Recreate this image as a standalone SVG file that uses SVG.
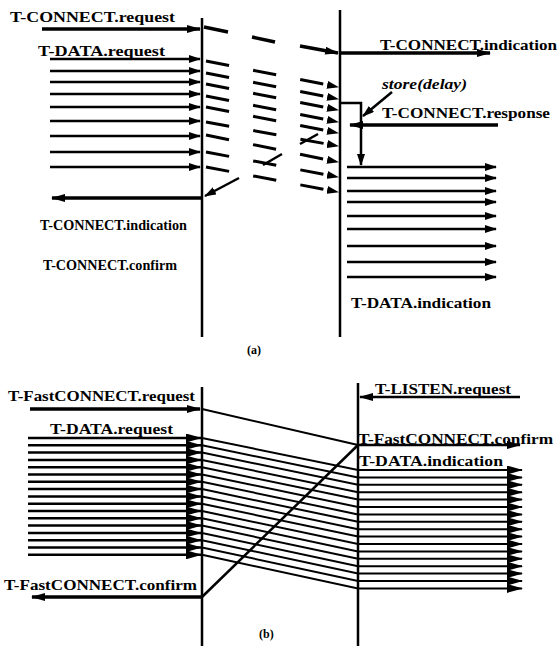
<svg xmlns="http://www.w3.org/2000/svg" width="558" height="646" viewBox="0 0 558 646">
  <style>
    .lbl { font-family: "Liberation Serif", "Times New Roman", serif; font-weight: bold; font-size: 15px; fill: #000; }
    .it { font-style: italic; }
    .cap { font-family: "Liberation Serif", "Times New Roman", serif; font-weight: bold; font-size: 12px; fill: #000; }
    .life { stroke: #000; stroke-width: 2.5; fill: none; }
    .msg { stroke: #000; stroke-width: 2.5; fill: none; }
    .thick { stroke: #000; stroke-width: 3.5; fill: none; }
    .thin { stroke: #000; stroke-width: 2; fill: none; }
    .dash { stroke: #000; stroke-width: 3; fill: none; stroke-dasharray: 23.5 24.5; }
  </style>
  <defs>
    <marker id="ah" markerUnits="userSpaceOnUse" viewBox="0 0 14 8" markerWidth="14" markerHeight="8" refX="13" refY="4" orient="auto">
      <path d="M0,0 L14,4 L0,8 z" fill="#000"/>
    </marker>
    <marker id="ahs" markerUnits="userSpaceOnUse" viewBox="0 0 12 8" markerWidth="12" markerHeight="8" refX="11" refY="4" orient="auto">
      <path d="M0,0 L12,4 L0,8 z" fill="#000"/>
    </marker>
    <marker id="ahb" markerUnits="userSpaceOnUse" viewBox="0 0 16 9" markerWidth="16" markerHeight="9" refX="15" refY="4.5" orient="auto">
      <path d="M0,0 L16,4.5 L0,9 z" fill="#000"/>
    </marker>
  </defs>

  <!-- (a) connection setup with buffered data -->
  <g id="a-lifelines">
    <line class="life" x1="202" y1="18" x2="202" y2="337"/>
    <line class="life" x1="340" y1="10" x2="340" y2="337"/>
  </g>

  <g id="a-connectors">
    <!-- connect request and its slow transfer -->
    <line class="thick" x1="42" y1="29" x2="200" y2="29" marker-end="url(#ah)"/>
    <line class="thick" x1="204" y1="27" x2="228" y2="32"/>
    <line class="thick" x1="252" y1="37" x2="275" y2="42"/>
    <line class="thick" x1="300" y1="46" x2="338" y2="53" marker-end="url(#ah)"/>
    <line class="thick" x1="340" y1="53" x2="490" y2="53" marker-end="url(#ah)"/>

    <!-- data requests on the initiating side -->
    <g class="msg">
      <line x1="50" y1="59" x2="200" y2="59" marker-end="url(#ahs)"/>
      <line x1="50" y1="71" x2="200" y2="71" marker-end="url(#ahs)"/>
      <line x1="50" y1="82" x2="200" y2="82" marker-end="url(#ahs)"/>
      <line x1="50" y1="94" x2="200" y2="94" marker-end="url(#ahs)"/>
      <line x1="50" y1="107" x2="200" y2="107" marker-end="url(#ahs)"/>
      <line x1="50" y1="121" x2="200" y2="121" marker-end="url(#ahs)"/>
      <line x1="50" y1="136" x2="200" y2="136" marker-end="url(#ahs)"/>
      <line x1="50" y1="152" x2="200" y2="152" marker-end="url(#ahs)"/>
      <line x1="50" y1="167" x2="200" y2="167" marker-end="url(#ahs)"/>
    </g>

    <!-- data in transit -->
    <g class="dash">
      <line x1="206" y1="61" x2="338" y2="87" marker-end="url(#ahs)"/>
      <line x1="206" y1="73" x2="338" y2="99" marker-end="url(#ahs)"/>
      <line x1="206" y1="84" x2="338" y2="110" marker-end="url(#ahs)"/>
      <line x1="206" y1="96" x2="338" y2="122" marker-end="url(#ahs)"/>
      <line x1="206" y1="107" x2="338" y2="133" marker-end="url(#ahs)"/>
      <line x1="206" y1="122" x2="338" y2="146" marker-end="url(#ahs)"/>
      <line x1="206" y1="135" x2="338" y2="162" marker-end="url(#ahs)"/>
      <line x1="206" y1="152" x2="338" y2="177" marker-end="url(#ahs)"/>
      <line x1="206" y1="167" x2="338" y2="192" marker-end="url(#ahs)"/>
    </g>

    <!-- connect confirmation travelling back -->
    <path class="msg" d="M318,134 L300,144 M282,154 L263,165"/>
    <line class="msg" x1="239" y1="178" x2="205" y2="196" marker-end="url(#ahs)"/>
    <line class="thick" x1="202" y1="198" x2="52" y2="198" marker-end="url(#ah)"/>

    <!-- store and delay at the responding side -->
    <path class="msg" d="M340,103 L361,103 L361,165" marker-end="url(#ahs)"/>
    <line class="msg" x1="392" y1="92" x2="363" y2="116" marker-end="url(#ahs)"/>
    <line class="thick" x1="498" y1="125" x2="350" y2="125" marker-end="url(#ah)"/>

    <!-- data indications delivered after the response -->
    <g class="msg">
      <line x1="347" y1="167" x2="496" y2="167" marker-end="url(#ahs)"/>
      <line x1="347" y1="178" x2="496" y2="178" marker-end="url(#ahs)"/>
      <line x1="347" y1="191" x2="496" y2="191" marker-end="url(#ahs)"/>
      <line x1="347" y1="202" x2="496" y2="202" marker-end="url(#ahs)"/>
      <line x1="347" y1="216" x2="496" y2="216" marker-end="url(#ahs)"/>
      <line x1="347" y1="229" x2="496" y2="229" marker-end="url(#ahs)"/>
      <line x1="347" y1="246" x2="496" y2="246" marker-end="url(#ahs)"/>
      <line x1="347" y1="262" x2="496" y2="262" marker-end="url(#ahs)"/>
      <line x1="347" y1="277" x2="496" y2="277" marker-end="url(#ahs)"/>
    </g>
  </g>

  <g id="a-labels">
    <text class="lbl" x="10" y="22" textLength="165" lengthAdjust="spacingAndGlyphs">T-CONNECT.request</text>
    <text class="lbl" x="38" y="56" textLength="127" lengthAdjust="spacingAndGlyphs">T-DATA.request</text>
    <text class="lbl" x="380" y="50" textLength="177" lengthAdjust="spacingAndGlyphs">T-CONNECT.indication</text>
    <text class="lbl it" x="382" y="89" textLength="85" lengthAdjust="spacingAndGlyphs">store(delay)</text>
    <text class="lbl" x="382" y="118" textLength="168" lengthAdjust="spacingAndGlyphs">T-CONNECT.response</text>
    <text class="lbl" x="40" y="230" textLength="147" lengthAdjust="spacingAndGlyphs">T-CONNECT.indication</text>
    <text class="lbl" x="43" y="270" textLength="134" lengthAdjust="spacingAndGlyphs">T-CONNECT.confirm</text>
    <text class="lbl" x="351" y="308" textLength="140" lengthAdjust="spacingAndGlyphs">T-DATA.indication</text>
    <text class="cap" x="247" y="354">(a)</text>
  </g>

  <!-- (b) fast connect: data sent with the connect request -->
  <g id="b-lifelines">
    <line class="life" x1="202" y1="387" x2="202" y2="646"/>
    <line class="life" x1="358" y1="383" x2="358" y2="646"/>
  </g>

  <g id="b-connectors">
    <line class="thick" x1="30" y1="409" x2="200" y2="409" marker-end="url(#ah)"/>
    <line class="thin" x1="202" y1="409" x2="358" y2="445"/>
    <line class="msg" x1="358" y1="445" x2="520" y2="445" marker-end="url(#ah)"/>
    <line class="msg" x1="520" y1="397" x2="360" y2="397" marker-end="url(#ah)"/>

    <!-- data requests -->
    <g class="msg">
      <line x1="28" y1="438" x2="201" y2="438" marker-end="url(#ahb)"/>
      <line x1="28" y1="445.3" x2="201" y2="445.3" marker-end="url(#ahb)"/>
      <line x1="28" y1="452.6" x2="201" y2="452.6" marker-end="url(#ahb)"/>
      <line x1="28" y1="459.9" x2="201" y2="459.9" marker-end="url(#ahb)"/>
      <line x1="28" y1="467.2" x2="201" y2="467.2" marker-end="url(#ahb)"/>
      <line x1="28" y1="474.5" x2="201" y2="474.5" marker-end="url(#ahb)"/>
      <line x1="28" y1="481.8" x2="201" y2="481.8" marker-end="url(#ahb)"/>
      <line x1="28" y1="489.1" x2="201" y2="489.1" marker-end="url(#ahb)"/>
      <line x1="28" y1="496.4" x2="201" y2="496.4" marker-end="url(#ahb)"/>
      <line x1="28" y1="503.7" x2="201" y2="503.7" marker-end="url(#ahb)"/>
      <line x1="28" y1="511" x2="201" y2="511" marker-end="url(#ahb)"/>
      <line x1="28" y1="518.3" x2="201" y2="518.3" marker-end="url(#ahb)"/>
      <line x1="28" y1="525.6" x2="201" y2="525.6" marker-end="url(#ahb)"/>
      <line x1="28" y1="532.9" x2="201" y2="532.9" marker-end="url(#ahb)"/>
      <line x1="28" y1="540.2" x2="201" y2="540.2" marker-end="url(#ahb)"/>
      <line x1="28" y1="547.5" x2="201" y2="547.5" marker-end="url(#ahb)"/>
      <line x1="28" y1="554.8" x2="201" y2="554.8" marker-end="url(#ahb)"/>
    </g>

    <!-- data in transit and delivered as indications -->
    <g class="thin">
      <polyline points="202,438 358,470 522,470" marker-end="url(#ahb)"/>
      <polyline points="202,445.3 358,477.4 522,477.4" marker-end="url(#ahb)"/>
      <polyline points="202,452.6 358,484.8 522,484.8" marker-end="url(#ahb)"/>
      <polyline points="202,459.9 358,492.2 522,492.2" marker-end="url(#ahb)"/>
      <polyline points="202,467.2 358,499.6 522,499.6" marker-end="url(#ahb)"/>
      <polyline points="202,474.5 358,507 522,507" marker-end="url(#ahb)"/>
      <polyline points="202,481.8 358,514.4 522,514.4" marker-end="url(#ahb)"/>
      <polyline points="202,489.1 358,521.8 522,521.8" marker-end="url(#ahb)"/>
      <polyline points="202,496.4 358,529.2 522,529.2" marker-end="url(#ahb)"/>
      <polyline points="202,503.7 358,536.6 522,536.6" marker-end="url(#ahb)"/>
      <polyline points="202,511 358,544 522,544" marker-end="url(#ahb)"/>
      <polyline points="202,518.3 358,551.4 522,551.4" marker-end="url(#ahb)"/>
      <polyline points="202,525.6 358,558.8 522,558.8" marker-end="url(#ahb)"/>
      <polyline points="202,532.9 358,566.2 522,566.2" marker-end="url(#ahb)"/>
      <polyline points="202,540.2 358,573.6 522,573.6" marker-end="url(#ahb)"/>
      <polyline points="202,547.5 358,581 522,581" marker-end="url(#ahb)"/>
      <polyline points="202,554.8 358,588.4 522,588.4" marker-end="url(#ahb)"/>
    </g>

    <!-- fast connect confirmation -->
    <line class="msg" x1="358" y1="445" x2="202" y2="597"/>
    <line class="thick" x1="202" y1="597" x2="32" y2="597" marker-end="url(#ah)"/>
  </g>

  <g id="b-labels">
    <text class="lbl" x="8" y="401" textLength="187" lengthAdjust="spacingAndGlyphs">T-FastCONNECT.request</text>
    <text class="lbl" x="50" y="434" textLength="123" lengthAdjust="spacingAndGlyphs">T-DATA.request</text>
    <text class="lbl" x="375" y="394" textLength="136" lengthAdjust="spacingAndGlyphs">T-LISTEN.request</text>
    <text class="lbl" x="358" y="444" textLength="195" lengthAdjust="spacingAndGlyphs">T-FastCONNECT.confirm</text>
    <text class="lbl" x="359" y="466" textLength="144" lengthAdjust="spacingAndGlyphs">T-DATA.indication</text>
    <text class="lbl" x="4" y="590" textLength="193" lengthAdjust="spacingAndGlyphs">T-FastCONNECT.confirm</text>
    <text class="cap" x="259" y="638">(b)</text>
  </g>
</svg>
